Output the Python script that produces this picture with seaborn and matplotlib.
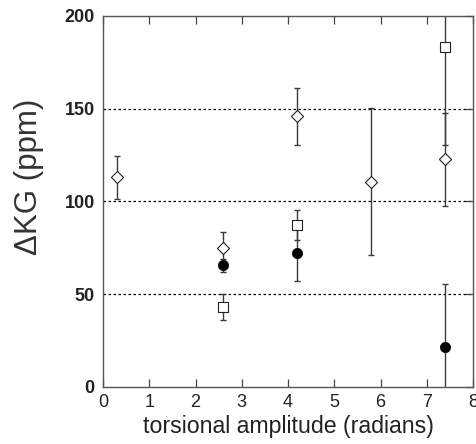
import matplotlib
matplotlib.use("Agg")
import matplotlib.pyplot as plt
import seaborn as sns
import pandas as pd

# data
x_diamond = [0.3, 2.6, 4.2, 5.8, 7.4]
y_diamond = [113.4, 75.1, 145.9, 110.3, 122.7]
e_diamond_lo = [11.9, 7.0, 15.4, 39.1, 25.0]
e_diamond_hi = [11.1, 8.3, 15.4, 39.9, 25.0]

x_square = [2.6, 4.2, 7.4]
y_square = [43.0, 87.2, 183.1]
e_square = [7.0, 8.0, 52.6]

x_circle = [2.6, 4.2, 7.4]
y_circle = [65.6, 72.1, 21.7]
e_circle = [3.5, 15.2, 33.8]

xticks = [0, 1, 2, 3, 4, 5, 6, 7, 8]
yticks = [0, 50, 100, 150, 200]

sns.set_style("white")
plt.rcParams['font.family'] = ['Liberation Sans', 'DejaVu Sans']

fig = plt.figure(figsize=(4.77, 4.44), dpi=100)
ax = fig.add_axes([0.216, 0.1284, 0.7756, 0.8356])

df = pd.concat([
    pd.DataFrame({"x": x_diamond, "y": y_diamond, "s": "diamond"}),
    pd.DataFrame({"x": x_square, "y": y_square, "s": "square"}),
    pd.DataFrame({"x": x_circle, "y": y_circle, "s": "circle"}),
])

# grid lines
for yv in [50, 100, 150]:
    ax.axhline(yv, color="black", lw=0.9, ls=(0, (2, 2)), zorder=0)

ecol = "#3a3a3a"
ax.errorbar(x_diamond, y_diamond, yerr=[e_diamond_lo, e_diamond_hi], fmt="none",
            ecolor=ecol, elinewidth=1.0, capsize=2.5, capthick=1.0, zorder=1)
ax.errorbar(x_square, y_square, yerr=e_square, fmt="none",
            ecolor=ecol, elinewidth=1.0, capsize=2.5, capthick=1.0, zorder=1)
ax.errorbar(x_circle, y_circle, yerr=e_circle, fmt="none",
            ecolor=ecol, elinewidth=1.0, capsize=2.5, capthick=1.0, zorder=1)

sns.scatterplot(data=df[df.s == "diamond"], x="x", y="y", marker="D", s=38,
                facecolor="white", edgecolor="#222222", linewidth=0.8, ax=ax, zorder=3)
sns.scatterplot(data=df[df.s == "square"], x="x", y="y", marker="s", s=52,
                facecolor="white", edgecolor="#222222", linewidth=0.8, ax=ax, zorder=3)
sns.scatterplot(data=df[df.s == "circle"], x="x", y="y", marker="o", s=55,
                color="black", edgecolor="black", linewidth=0.5, ax=ax, zorder=3)

ax.set_xlim(0, 8)
ax.set_ylim(0, 200)
ax.set_xticks(xticks)
ax.set_yticks(yticks)
ax.set_xticklabels([str(v) for v in xticks], fontsize=13, color="#222222")
ax.set_yticklabels([str(v) for v in yticks], fontsize=13, color="#222222", fontweight="bold")
ax.tick_params(axis="x", direction="in", length=6, width=0.9, top=True, bottom=True,
               color="#444444", pad=5)
ax.tick_params(axis="y", direction="in", length=6, width=0.9, left=False, right=True,
               color="#444444", pad=6)
for sp in ax.spines.values():
    sp.set_color("#555555")
    sp.set_linewidth(1.0)

ax.set_xlabel("torsional amplitude (radians)", fontsize=16.7, color="#222222", labelpad=3)
ax.set_ylabel("ΔKG (ppm)", fontsize=22.5, color="#333333")
ax.yaxis.set_label_coords(-0.16, 0.566)

fig.savefig("out.png", dpi=100)
